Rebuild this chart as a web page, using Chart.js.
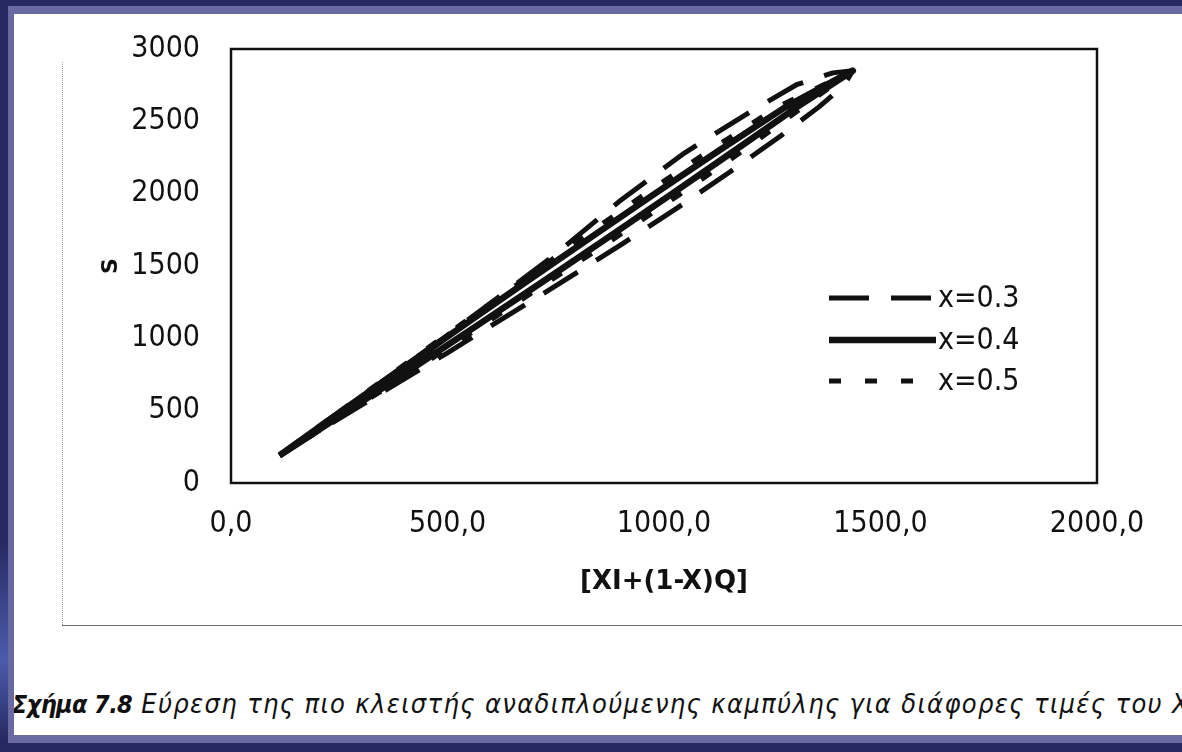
<!DOCTYPE html>
<html>
<head>
<meta charset="utf-8">
<script src="https://cdn.jsdelivr.net/npm/chart.js@4.4.1/dist/chart.umd.min.js"></script>
<style>
    html, body { margin:0; padding:0; }
    body { width:1182px; height:752px; background:#262a62; position:relative; overflow:hidden; }
    #brillo { position:absolute; left:0; top:540px; width:9px; height:200px;
              background:linear-gradient(to bottom, #262a62, #4c5cab 60%, #262a62); }
    #marco { position:absolute; left:8px; top:6px; width:1174px; height:737px; background:#6a6aa3; }
    #hoja { position:absolute; left:14px; top:14px; width:1168px; height:721px; background:#ffffff; overflow:hidden; }
    #lineaV { position:absolute; left:48px; top:48px; width:0; height:563px; border-left:1px dotted #9a9a9a; }
    #lineaH { position:absolute; left:48px; top:611px; width:1130px; height:1px; background:#6a6a6a; }
    #leyenda { position:absolute; left:-2px; top:674px; white-space:nowrap; color:#111;
               font-family:'DejaVu Sans Condensed','DejaVu Sans',sans-serif; font-style:italic;
               font-size:27px; letter-spacing:1.35px; }
    #leyenda b { font-size:25px; letter-spacing:-0.6px; }
    #grafico { position:absolute; left:0; top:0; }
</style>
</head>
<body>
<div id="brillo"></div>
<div id="marco"></div>
<div id="hoja">
    <div id="lineaV"></div>
    <div id="lineaH"></div>
    <div id="leyenda"><b>Σχήμα 7.8</b> Εύρεση της πιο κλειστής αναδιπλούμενης καμπύλης για διάφορες τιμές του Χ</div>
</div>
<canvas id="grafico" width="1182" height="752"></canvas>

<script>
// [XI+(1-X)Q] (eje x) y S (eje y) para cada valor de x; subida y luego bajada del lazo
const etiquetas = ['x=0.3', 'x=0.4', 'x=0.5'];

const xi03 = [112, 225, 362, 500, 635, 770, 902, 1030, 1152, 1270, 1358, 1416, 1436, 1390, 1306, 1205, 1047, 897, 744, 625, 490, 348, 207, 112];
const s03  = [190, 400, 650, 900, 1150, 1400, 1650, 1900, 2150, 2400, 2600, 2750, 2850, 2835, 2753, 2577, 2281, 1947, 1569, 1300, 1000, 700, 400, 190];

const xi04 = [112, 270, 423, 574, 724, 872, 1019, 1164, 1308, 1436, 1281, 1128, 979, 832, 686, 542, 399, 257, 112];
const s04  = [190, 500, 800, 1100, 1400, 1700, 2000, 2300, 2600, 2850, 2600, 2300, 2000, 1700, 1400, 1100, 800, 500, 190];

const xi05 = [112, 276, 433, 586, 738, 890, 1039, 1184, 1321, 1436, 1263, 1106, 957, 814, 674, 533, 392, 254, 112];
const s05  = [190, 500, 800, 1100, 1400, 1700, 2000, 2300, 2600, 2850, 2600, 2300, 2000, 1700, 1400, 1100, 800, 500, 190];

const ticksX = ['0,0', '500,0', '1000,0', '1500,0', '2000,0'];
const ticksY = ['0', '500', '1000', '1500', '2000', '2500', '3000'];

const fuente = "'DejaVu Sans Condensed', 'DejaVu Sans', sans-serif";
const tinta = '#111111';

function puntos(xs, ys){
    return xs.map(function(v, i){ return { x: v, y: ys[i] }; });
}

const estilos = [
    { dash: [40, 22], ancho: 5 },
    { dash: [], ancho: 6.5 },
    { dash: [12, 24], ancho: 5 }
];

const series = [ [xi03, s03], [xi04, s04], [xi05, s05] ];

let datasets = series.map(function(par, k){
    return {
        label: etiquetas[k],
        data: puntos(par[0], par[1]),
        showLine: true,
        borderColor: tinta,
        borderWidth: estilos[k].ancho,
        borderDash: estilos[k].dash,
        borderCapStyle: 'butt',
        borderJoinStyle: 'round',
        tension: 0,
        pointRadius: 0,
        fill: false
    };
});

// marco del area de trazado y leyenda dentro del grafico
const marcoYLeyenda = {
    id: 'marcoYLeyenda',
    afterDraw: function(chart){
        const c = chart.ctx;
        const a = chart.chartArea;
        c.save();
        c.strokeStyle = tinta;
        c.lineWidth = 2.5;
        c.setLineDash([]);
        c.strokeRect(a.left, a.top, a.right - a.left, a.bottom - a.top);

        const filas = [298, 340, 381];
        chart.data.datasets.forEach(function(ds, k){
            c.beginPath();
            c.lineWidth = ds.borderWidth;
            c.setLineDash(ds.borderDash);
            c.lineCap = 'butt';
            c.moveTo(829, filas[k]);
            c.lineTo(936, filas[k]);
            c.stroke();
            c.setLineDash([]);
            c.fillStyle = tinta;
            c.font = '30px ' + fuente;
            c.textBaseline = 'middle';
            c.textAlign = 'left';
            c.fillText(ds.label, 938, filas[k] + 1);
        });
        c.restore();
    }
};

new Chart(document.getElementById('grafico'), {
    type: 'scatter',
    data: { datasets: datasets },
    plugins: [marcoYLeyenda],
    options: {
        responsive: false,
        animation: false,
        devicePixelRatio: 1,
        layout: { padding: { left: 90, top: 47, right: 85, bottom: 149 } },
        plugins: {
            legend: { display: false },
            tooltip: { enabled: false }
        },
        scales: {
            x: {
                type: 'linear',
                min: 0, max: 2000,
                afterFit: function(s){ s.height = 120; },
                grid: { display: false, drawTicks: false },
                border: { display: false },
                ticks: {
                    stepSize: 500,
                    padding: 23,
                    color: tinta,
                    font: { family: fuente, size: 30 },
                    callback: function(v, i){ return ticksX[i]; }
                },
                title: {
                    display: true,
                    text: '[XI+(1-X)Q]',
                    color: tinta,
                    padding: { top: 0, bottom: 5 },
                    font: { family: "'DejaVu Sans', sans-serif", size: 26, weight: 'bold' }
                }
            },
            y: {
                type: 'linear',
                min: 0, max: 3000,
                afterFit: function(s){ s.width = 141; },
                grid: { display: false, drawTicks: false },
                border: { display: false },
                ticks: {
                    stepSize: 500,
                    padding: 31,
                    color: tinta,
                    font: { family: fuente, size: 30 },
                    callback: function(v, i){ return ticksY[i]; }
                },
                title: {
                    display: true,
                    text: 'S',
                    color: tinta,
                    padding: { top: 8, bottom: 0 },
                    font: { family: "'DejaVu Sans', sans-serif", size: 22, weight: 'bold' }
                }
            }
        }
    }
});
</script>
</body>
</html>
